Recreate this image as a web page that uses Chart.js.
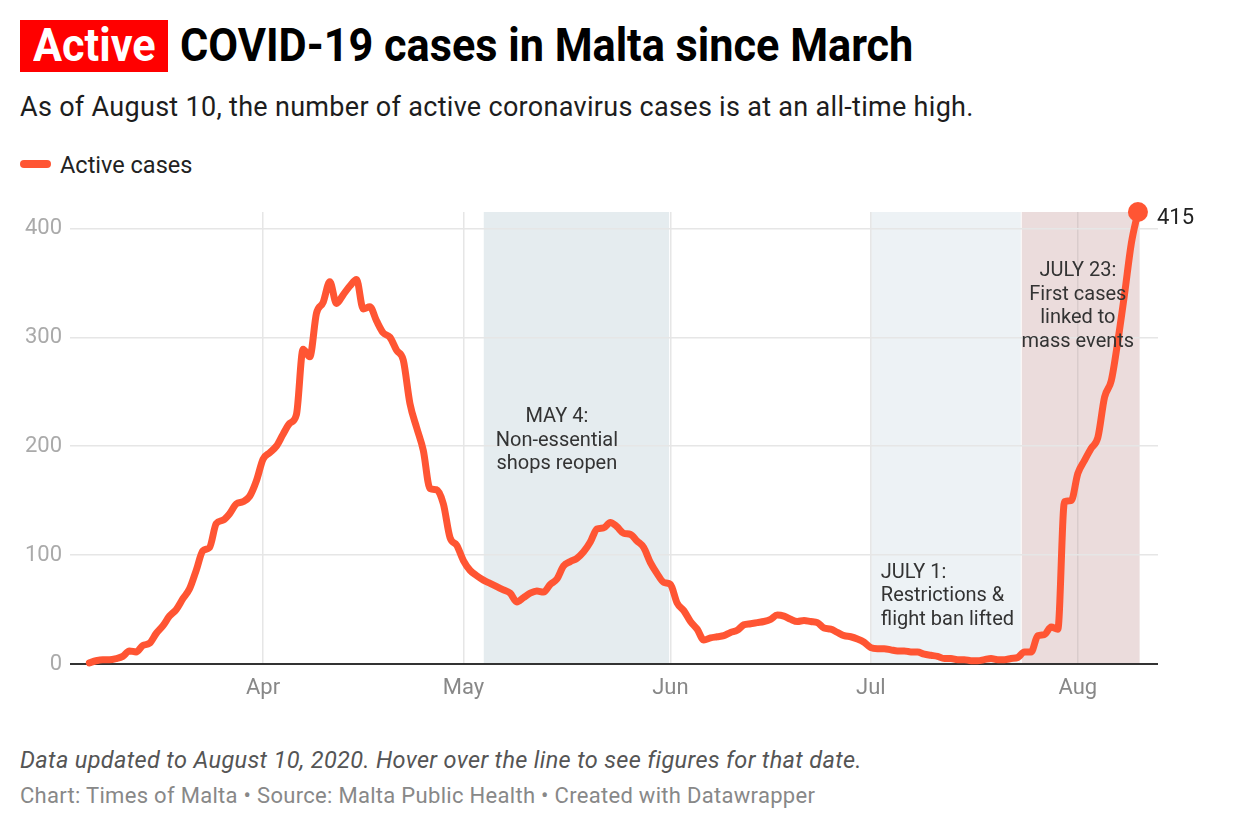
<!DOCTYPE html>
<html><head><meta charset="utf-8">
<script src="https://cdn.jsdelivr.net/npm/chart.js@4.4.1/dist/chart.umd.min.js"></script>
<style>
html,body{margin:0;padding:0;background:#fff;}
body{width:1240px;height:840px;position:relative;overflow:hidden;font-family:Roboto,"Noto Sans",sans-serif;}
.abs{position:absolute;white-space:nowrap;}
#badge{left:20px;top:20px;width:148px;height:52px;background:#ff0000;}
#badgeText{left:33px;top:22px;font-size:46px;line-height:46px;font-weight:700;color:#fff;transform:scaleX(0.94);transform-origin:0 0;}
#title{left:180px;top:22px;font-size:46px;line-height:46px;font-weight:700;color:#000;transform:scaleX(0.94);transform-origin:0 0;}
#sub{left:20px;top:94px;font-size:27px;line-height:27px;letter-spacing:0.3px;color:#1d1d1d;}
#legSw{left:20px;top:160px;width:31px;height:8px;border-radius:4px;background:#ff5533;}
#legTx{left:60px;top:154px;font-size:23.5px;line-height:23.5px;color:#222;}
#note{left:20px;top:749px;font-size:23.5px;line-height:23.5px;letter-spacing:0.35px;font-style:italic;color:#555;}
#credit{left:20px;top:785px;font-size:22px;line-height:22px;letter-spacing:0.3px;color:#888;}
#wrap{left:0;top:190px;width:1240px;height:530px;}
</style></head>
<body>
<div id="badge" class="abs"></div>
<div id="badgeText" class="abs">Active</div>
<div id="title" class="abs">COVID-19 cases in Malta since March</div>
<div id="sub" class="abs">As of August 10, the number of active coronavirus cases is at an all-time high.</div>
<div id="legSw" class="abs"></div>
<div id="legTx" class="abs">Active cases</div>
<div id="wrap" class="abs"><canvas id="c"></canvas></div>
<div id="note" class="abs">Data updated to August 10, 2020. Hover over the line to see figures for that date.</div>
<div id="credit" class="abs">Chart: Times of Malta • Source: Malta Public Health • Created with Datawrapper</div>
<script>
// ---- DATA ----
// day index 0 = 2020-03-06, last = 2020-08-10
const startDate = '2020-03-06';
const activeCases = [
  1, 3, 4, 4, 5, 7, 12, 11, 17, 19,
  28, 35, 44, 50, 60, 69, 86, 104, 107, 129,
  132, 138, 147, 149, 154, 168, 188, 194, 200, 211,
  221, 229, 289, 282, 322, 332, 351, 331, 339, 347,
  353, 326, 328, 315, 304, 300, 288, 279, 239, 217,
  196, 161, 160, 147, 116, 109, 95, 86, 81, 77,
  74, 71, 68, 65, 57, 61, 65, 67, 66, 73,
  78, 90, 94, 97, 103, 112, 124, 125, 130, 126,
  120, 119, 113, 107, 93, 83, 75, 73, 56, 49,
  39, 32, 22, 24, 25, 26, 29, 31, 36, 37,
  38, 39, 41, 45, 44, 41, 39, 40, 39, 38,
  33, 32, 29, 26, 25, 23, 20, 15, 14, 14,
  13, 12, 12, 11, 11, 9, 8, 7, 5, 5,
  4, 4, 3, 3, 4, 5, 4, 4, 5, 6,
  11, 11, 26, 27, 34, 32, 149, 150, 175, 187,
  198, 208, 245, 260, 297, 340, 386, 415
];
const monthTickDays = [26, 56, 87, 117, 148];
const monthTickLabels = ['Apr', 'May', 'Jun', 'Jul', 'Aug'];
const yTickValues = [0, 100, 200, 300, 400];
// highlighted periods (day index from/to)
const periodFrom = [59.05, 117.05, 139.6];
const periodTo = [86.8, 139.45, 157.25];
// annotations: anchor day / value and text
const noteDays = [70, 118.5, 148];
const noteValues = [227, 84, 361];
const noteTexts = [
  ['MAY 4:', 'Non-essential', 'shops reopen'],
  ['JULY 1:', 'Restrictions &', 'flight ban lifted'],
  ['JULY 23:', 'First cases', 'linked to', 'mass events']
];

// ---- STYLE ----
const LINE = '#ff5533';
const periodColors = ['#e5ecef', '#edf2f5', '#ebdcdc'];
const noteAlign = ['center', 'left', 'center'];
const FONT = 'Roboto, "Noto Sans", sans-serif';

const points = activeCases.map((v, i) => ({x: i, y: v}));
const lastIdx = activeCases.length - 1;

const extras = {
  id: 'extras',
  beforeDraw(chart) {
    const {ctx, chartArea: a, scales: {x}} = chart;
    ctx.save();
    periodFrom.forEach((f, i) => {
      const x0 = x.getPixelForValue(f), x1 = x.getPixelForValue(periodTo[i]);
      ctx.fillStyle = periodColors[i];
      ctx.fillRect(x0, a.top, x1 - x0, a.bottom - a.top);
    });
    ctx.restore();
  },
  afterDatasetsDraw(chart) {
    const {ctx, scales: {x, y}} = chart;
    ctx.save();
    ctx.fillStyle = '#333';
    ctx.font = '20px ' + FONT;
    ctx.textBaseline = 'middle';
    noteTexts.forEach((lines, i) => {
      const px = x.getPixelForValue(noteDays[i]);
      const py = y.getPixelForValue(noteValues[i]);
      ctx.textAlign = noteAlign[i];
      lines.forEach((t, j) => ctx.fillText(t, px, py + j * 23.8));
    });
    const meta = chart.getDatasetMeta(0);
    const p = meta.data[lastIdx];
    ctx.font = '22px ' + FONT;
    ctx.textAlign = 'left';
    ctx.textBaseline = 'alphabetic';
    ctx.fillStyle = '#222';
    ctx.fillText(String(activeCases[lastIdx]), p.x + 19, p.y + 12);
    ctx.restore();
  }
};

new Chart(document.getElementById('c'), {
  type: 'line',
  data: {
    datasets: [{
      label: 'Active cases',
      data: points,
      borderColor: LINE,
      backgroundColor: LINE,
      borderWidth: 7,
      borderCapStyle: 'round',
      borderJoinStyle: 'round',
      cubicInterpolationMode: 'monotone',
      pointRadius: c => c.dataIndex === lastIdx ? 10 : 0,
      pointHoverRadius: c => c.dataIndex === lastIdx ? 10 : 0,
      pointBorderWidth: 0,
      pointBackgroundColor: LINE,
      fill: false,
      clip: false
    }]
  },
  options: {
    responsive: true,
    maintainAspectRatio: false,
    animation: false,
    events: [],
    layout: {padding: {left: 0, right: 82, top: 22, bottom: 16}},
    plugins: {legend: {display: false}, tooltip: {enabled: false}},
    scales: {
      x: {
        type: 'linear', min: -2.9, max: 160,
        afterBuildTicks: s => { s.ticks = monthTickDays.map(v => ({value: v})); },
        afterFit: s => { s.height = 40; },
        border: {display: false},
        grid: {drawTicks: false, lineWidth: 1.5,
          color: c => (c.tick && c.tick.value === 148) ? '#d9cccc' : '#e6e6e6'},
        ticks: {
          autoSkip: false, maxRotation: 0, padding: 11, color: '#888',
          font: {family: FONT, size: 22},
          callback: v => monthTickLabels[monthTickDays.indexOf(v)]
        }
      },
      y: {
        min: 0, max: 415,
        afterBuildTicks: s => { s.ticks = yTickValues.map(v => ({value: v})); },
        afterFit: s => { s.width = 70; },
        border: {display: false},
        grid: {drawTicks: false,
          color: c => (c.tick && c.tick.value === 0) ? '#333' : '#e6e6e6',
          lineWidth: c => (c.tick && c.tick.value === 0) ? 2 : 1.5},
        ticks: {padding: 8, color: '#aaa', font: {family: FONT, size: 22}}
      }
    }
  },
  plugins: [extras]
});
</script>
</body></html>
